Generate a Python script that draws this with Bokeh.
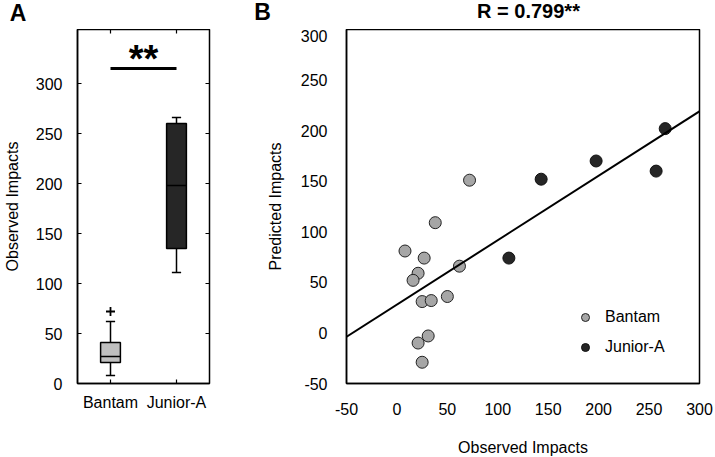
from bokeh.plotting import figure
from bokeh.layouts import row, column
from bokeh.models import (Range1d, LinearAxis, FixedTicker, Label, Slope, ColumnDataSource,
                          Legend, LegendItem)
from bokeh.embed import file_html
from bokeh.resources import INLINE

FONT = "Liberation Sans"

# ---------------- data ----------------
groups = ["Bantam", "Junior-A"]
group_pos = [1, 3]
box_colors = ["#bfbfbf", "#262626"]
box_lower = [8, 111]
box_q1 = [21, 135]
box_median = [27, 198]
box_q3 = [41, 260]
box_upper = [62, 266]
outlier_pos = [1]
outlier_val = [72]
sig_text = "**"
sig_y = 315

bantam_obs = [38, 8, 27, 62, 21, 16, 50, 25, 34, 31, 21, 25, 72]
bantam_pred = [109, 81, 74, 66, 59, 52, 36, 31, 32, -3, -10, -29, 151]
junior_obs = [111, 143, 197.5, 257, 266]
junior_pred = [74, 152, 170, 160, 202]
fit_slope = 0.637
fit_intercept = 28
r_text = "R = 0.799**"
panel_letters = ["A", "B"]

yA_ticks = [0, 50, 100, 150, 200, 250, 300]
B_ticks = [-50, 0, 50, 100, 150, 200, 250, 300]


def style_axis(ax, ticks):
    ax.ticker = FixedTicker(ticks=ticks)
    ax.major_tick_in = 4
    ax.major_tick_out = 0
    ax.minor_tick_in = 0
    ax.minor_tick_out = 0
    ax.axis_line_color = "black"
    ax.axis_line_width = 1.5
    ax.major_tick_line_width = 1.2
    ax.major_label_text_font = FONT
    ax.major_label_text_font_size = "16px"
    ax.major_label_text_color = "black"
    ax.axis_label_text_font = FONT
    ax.axis_label_text_font_size = "16px"
    ax.axis_label_text_font_style = "normal"
    ax.axis_label_text_color = "black"
    ax.major_label_overrides = {t: str(t) for t in ticks if t < 0}


# ---------------- heading strip (panel letters and panel B title) ----------------
pT = figure(frame_width=715, frame_height=29, x_range=Range1d(0, 715), y_range=Range1d(29, 0),
            output_backend="svg", toolbar_location=None, min_border=0,
            x_axis_type=None, y_axis_type=None, title_location=None)
pT.outline_line_color = None
pT.grid.visible = False
pT.background_fill_alpha = 0
pT.border_fill_alpha = 0
for txt, xc, yc, fs in [(panel_letters[0], 17.5, 12, "23px"), (panel_letters[1], 262, 11.8, "23px"),
                        (r_text, 528, 10.3, "20px")]:
    pT.add_layout(Label(x=xc, y=yc, text=txt, text_font=FONT, text_font_size=fs,
                        text_font_style="bold", text_align="center", text_baseline="middle",
                        text_color="black"))

# ---------------- panel A ----------------
xA0, xA1 = 0, 4
yA0, yA1 = 0, 354
pA = figure(frame_width=132, frame_height=354, x_range=Range1d(xA0, xA1), y_range=Range1d(yA0, yA1),
            output_backend="svg", toolbar_location=None, title_location=None,
            min_border_left=77, min_border_right=29, min_border_top=0, min_border_bottom=74,
            x_axis_type=None, y_axis_type=None)
pA.outline_line_color = "black"
pA.outline_line_width = 1.5
pA.grid.visible = False

yl = LinearAxis(axis_label="Observed Impacts")
style_axis(yl, yA_ticks)
yl.major_label_standoff = 15
yl.axis_label_standoff = 12
pA.add_layout(yl, "left")
xb = LinearAxis()
style_axis(xb, group_pos)
xb.major_label_overrides = {p: g for p, g in zip(group_pos, groups)}
xb.major_label_standoff = 10
pA.add_layout(xb, "below")

# mirrored inward ticks on the right and top edges (4 px long)
tick_dx = 4 * (xA1 - xA0) / 132
tick_dy = 4 * (yA1 - yA0) / 354
pA.segment(x0=[xA1 - tick_dx] * len(yA_ticks), y0=yA_ticks, x1=[xA1] * len(yA_ticks), y1=yA_ticks,
           line_color="black", line_width=1.2)
pA.segment(x0=group_pos, y0=[yA1 - tick_dy] * len(group_pos), x1=group_pos, y1=[yA1] * len(group_pos),
           line_color="black", line_width=1.2)

box_w = 0.6
cap_w = 0.28
src = ColumnDataSource(dict(x=group_pos, lo=box_lower, q1=box_q1, med=box_median, q3=box_q3,
                            hi=box_upper, color=box_colors,
                            x0=[p - box_w / 2 for p in group_pos], x1=[p + box_w / 2 for p in group_pos],
                            c0=[p - cap_w / 2 for p in group_pos], c1=[p + cap_w / 2 for p in group_pos]))
pA.segment(x0="x", y0="q3", x1="x", y1="hi", source=src, line_color="black", line_width=1.5)
pA.segment(x0="x", y0="lo", x1="x", y1="q1", source=src, line_color="black", line_width=1.5)
pA.segment(x0="c0", y0="hi", x1="c1", y1="hi", source=src, line_color="black", line_width=1.5)
pA.segment(x0="c0", y0="lo", x1="c1", y1="lo", source=src, line_color="black", line_width=1.5)
pA.vbar(x="x", width=box_w, bottom="q1", top="q3", source=src, fill_color="color",
        line_color="black", line_width=1.5)
pA.segment(x0="x0", y0="med", x1="x1", y1="med", source=src, line_color="black", line_width=1.5)
pA.scatter(outlier_pos, outlier_val, marker="cross", size=9, line_color="black", line_width=1.8)
pA.segment(x0=[group_pos[0]], y0=[sig_y], x1=[group_pos[1]], y1=[sig_y], line_color="black", line_width=3)
pA.add_layout(Label(x=sum(group_pos) / 2, y=sig_y + 10, text=sig_text, text_font=FONT,
                    text_font_size="38px", text_font_style="bold", text_align="center",
                    text_baseline="alphabetic", text_color="black"))

# ---------------- panel B ----------------
pB = figure(frame_width=353, frame_height=354, x_range=Range1d(-50, 300), y_range=Range1d(-50, 300),
            output_backend="svg", toolbar_location=None, title_location=None,
            min_border_left=108, min_border_right=16, min_border_top=0, min_border_bottom=74,
            x_axis_type=None, y_axis_type=None)
pB.outline_line_color = "black"
pB.outline_line_width = 1.5

bx = LinearAxis(axis_label="Observed Impacts")
style_axis(bx, B_ticks)
bx.major_tick_in = 0
bx.major_label_standoff = 19
bx.axis_label_standoff = 21
pB.add_layout(bx, "below")
by = LinearAxis(axis_label="Predicted Impacts")
style_axis(by, B_ticks)
by.major_tick_in = 0
by.major_label_standoff = 19
by.axis_label_standoff = 14
pB.add_layout(by, "left")
pB.xgrid.ticker = FixedTicker(ticks=B_ticks)
pB.ygrid.ticker = FixedTicker(ticks=B_ticks)
pB.xgrid.grid_line_color = "#d4d4d4"
pB.ygrid.grid_line_color = "#d4d4d4"

pB.add_layout(Slope(gradient=fit_slope, y_intercept=fit_intercept, line_color="black", line_width=2))
rb = pB.scatter(bantam_obs, bantam_pred, size=12, fill_color="#a6a6a6", line_color="#222222", line_width=1)
rj = pB.scatter(junior_obs, junior_pred, size=12, fill_color="#262626", line_color="#111111", line_width=1)

leg = Legend(items=[LegendItem(label=groups[0], renderers=[rb]), LegendItem(label=groups[1], renderers=[rj])],
             location=(229, 26), padding=0, margin=0, spacing=10, glyph_width=20, glyph_height=20,
             label_height=20, label_standoff=10, border_line_color=None, background_fill_alpha=0,
             label_text_font=FONT, label_text_font_size="16px", label_text_color="black")
pB.add_layout(leg)

layout = column(pT, row(pA, pB))
open("out.html", "w").write(file_html(layout, INLINE))
